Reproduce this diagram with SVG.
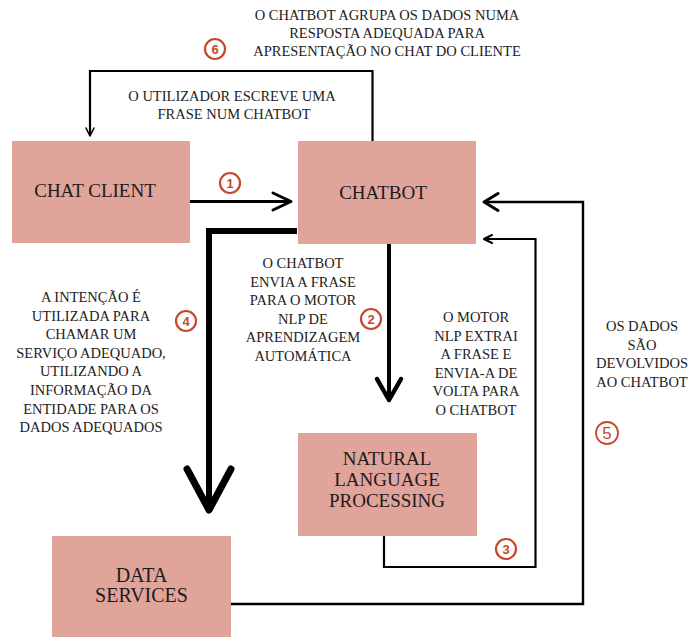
<svg xmlns="http://www.w3.org/2000/svg" width="689" height="637" viewBox="0 0 689 637">
  <style>
    text { font-family: "Liberation Serif", Tinos, "Times New Roman", "DejaVu Serif", serif; }
    .box { fill: #e0a49a; }
    .name { font-size: 19px; fill: #1e1a1a; text-anchor: middle; }
    .note { font-size: 14.5px; fill: #222; text-anchor: middle; }
    .wire { fill: none; stroke: #000; stroke-linejoin: miter; }
    .head { fill: none; stroke: #000; stroke-linecap: round; stroke-linejoin: round; }
    .step circle { fill: #fff; stroke: #c8472c; stroke-width: 2.2; }
    .step text { font-family: "Liberation Sans", Arial, sans-serif; font-size: 13px; font-weight: bold; fill: #c8472c; text-anchor: middle; }
  </style>

  <rect width="689" height="637" fill="#fff"/>

  <!-- connectors -->
  <g id="connectors">
    <!-- 1: chat client to chatbot -->
    <path class="wire" d="M190,201.5 H290" stroke-width="2.8"/>
    <path class="head" d="M273,193 L291,201.5 L273,210" stroke-width="3"/>

    <!-- 2: chatbot to NLP -->
    <path class="wire" d="M389,244 V398" stroke-width="4"/>
    <path class="head" d="M377,379 L389,400 L401,379" stroke-width="4.5"/>

    <!-- 3: NLP back to chatbot -->
    <path class="wire" d="M384,536 V567 H535.5 V239 H484" stroke-width="2.2"/>
    <path class="head" d="M492,235 L484,239 L492,243" stroke-width="2"/>

    <!-- 4: chatbot to data services -->
    <path class="wire" d="M297,231 H209 V508" stroke-width="6"/>
    <path class="head" d="M187,469 L209,510 L231,469" stroke-width="7"/>

    <!-- 5: data services back to chatbot -->
    <path class="wire" d="M231,604 H583 V202 H485" stroke-width="2.4"/>
    <path class="head" d="M498,193.5 L484,202 L498,210.5" stroke-width="3"/>

    <!-- 6: chatbot reply to chat client -->
    <path class="wire" d="M372.5,141 V71 H90 V135" stroke-width="2.2"/>
    <path class="head" d="M86,128 L90,136 L94,128" stroke-width="1.6"/>
  </g>

  <!-- nodes -->
  <g id="chat-client">
    <rect class="box" x="12" y="141" width="178" height="102"/>
    <text class="name" x="95" y="197">CHAT CLIENT</text>
  </g>

  <g id="chatbot">
    <rect class="box" x="298" y="141" width="178" height="103"/>
    <text class="name" x="383" y="199">CHATBOT</text>
  </g>

  <g id="nlp">
    <rect class="box" x="298" y="433" width="179" height="103"/>
    <text class="name" x="387" y="465">NATURAL</text>
    <text class="name" x="387" y="486">LANGUAGE</text>
    <text class="name" x="387" y="507">PROCESSING</text>
  </g>

  <g id="data-services">
    <rect class="box" x="52" y="536" width="179" height="101"/>
    <text class="name" x="141.5" y="582" style="font-size:20px">DATA</text>
    <text class="name" x="141.5" y="602" style="font-size:20px">SERVICES</text>
  </g>

  <!-- step labels -->
  <g id="label-6">
    <text class="note" x="387" y="20">O CHATBOT AGRUPA OS DADOS NUMA</text>
    <text class="note" x="387" y="38">RESPOSTA ADEQUADA PARA</text>
    <text class="note" x="387" y="56">APRESENTAÇÃO NO CHAT DO CLIENTE</text>
  </g>

  <g id="label-1">
    <text class="note" x="232" y="101">O UTILIZADOR ESCREVE UMA</text>
    <text class="note" x="234" y="119">FRASE NUM CHATBOT</text>
  </g>

  <g id="label-4">
    <text class="note" x="91" y="302">A INTENÇÃO É</text>
    <text class="note" x="91" y="320.6">UTILIZADA PARA</text>
    <text class="note" x="91" y="339.2">CHAMAR UM</text>
    <text class="note" x="91" y="357.8">SERVIÇO ADEQUADO,</text>
    <text class="note" x="91" y="376.4">UTILIZANDO A</text>
    <text class="note" x="91" y="395">INFORMAÇÃO DA</text>
    <text class="note" x="91" y="413.6">ENTIDADE PARA OS</text>
    <text class="note" x="91" y="432.2">DADOS ADEQUADOS</text>
  </g>

  <g id="label-2">
    <text class="note" x="303" y="268">O CHATBOT</text>
    <text class="note" x="303" y="286.5">ENVIA A FRASE</text>
    <text class="note" x="303" y="305">PARA O MOTOR</text>
    <text class="note" x="303" y="323.5">NLP DE</text>
    <text class="note" x="303" y="342">APRENDIZAGEM</text>
    <text class="note" x="303" y="360.5">AUTOMÁTICA</text>
  </g>

  <g id="label-3">
    <text class="note" x="476" y="322">O MOTOR</text>
    <text class="note" x="476" y="340.6">NLP EXTRAI</text>
    <text class="note" x="476" y="359.2">A FRASE E</text>
    <text class="note" x="476" y="377.8">ENVIA-A DE</text>
    <text class="note" x="476" y="396.4">VOLTA PARA</text>
    <text class="note" x="476" y="415">O CHATBOT</text>
  </g>

  <g id="label-5">
    <text class="note" x="642" y="331">OS DADOS</text>
    <text class="note" x="642" y="349.5">SÃO</text>
    <text class="note" x="642" y="368">DEVOLVIDOS</text>
    <text class="note" x="642" y="386.5">AO CHATBOT</text>
  </g>

  <!-- step numbers -->
  <g class="step" id="step-1"><circle cx="230" cy="183" r="10"/><text x="230" y="187.5">1</text></g>
  <g class="step" id="step-2"><circle cx="371" cy="319" r="10"/><text x="371" y="323.5">2</text></g>
  <g class="step" id="step-3"><circle cx="506" cy="549" r="10"/><text x="506" y="553.5">3</text></g>
  <g class="step" id="step-4"><circle cx="186" cy="321" r="10"/><text x="186" y="325.5">4</text></g>
  <g class="step" id="step-5"><circle cx="607" cy="433" r="11" style="stroke-width:1.8"/><text x="607" y="439" style="font-size:17px;font-weight:normal">5</text></g>
  <g class="step" id="step-6"><circle cx="215" cy="49" r="10"/><text x="215" y="53.5">6</text></g>
</svg>
